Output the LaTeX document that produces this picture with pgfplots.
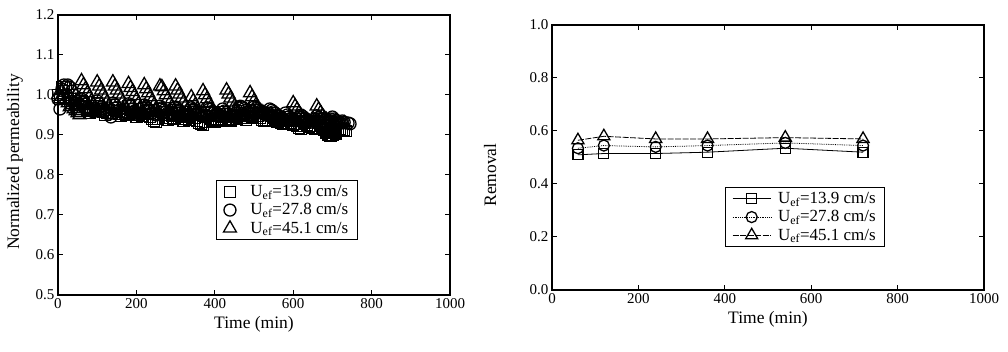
\documentclass[border=0pt]{standalone}
\usepackage{pgfplots}
\pgfplotsset{compat=1.18}
\usepackage{fontspec}
\setmainfont{Liberation Serif}
\pgfplotstableread{
x y
0 1.00
5 0.99
10 1.02
15 1.01
20 1.02
25 1.00
30 0.99
35 0.98
40 0.985
45 0.975
50 0.965
55 0.96
60 0.985
65 0.978
70 0.97
75 0.962
80 0.955
85 0.96
90 0.968
95 0.96
100 0.98
105 0.972
110 0.965
115 0.958
120 0.95
125 0.955
130 0.962
135 0.955
140 0.975
145 0.968
150 0.96
155 0.952
160 0.948
165 0.952
170 0.958
175 0.95
180 0.972
185 0.965
190 0.958
195 0.95
200 0.945
205 0.95
210 0.955
215 0.948
220 0.968
225 0.96
230 0.952
235 0.945
240 0.94
245 0.935
250 0.932
255 0.94
260 0.965
265 0.958
270 0.95
275 0.942
280 0.938
285 0.942
290 0.948
295 0.94
300 0.962
305 0.955
310 0.948
315 0.94
320 0.935
325 0.94
330 0.945
335 0.938
340 0.958
345 0.95
350 0.942
355 0.935
360 0.93
365 0.928
370 0.925
375 0.932
380 0.955
385 0.948
390 0.94
395 0.935
400 0.932
405 0.936
410 0.94
415 0.936
420 0.958
425 0.952
430 0.945
435 0.94
440 0.936
445 0.94
450 0.945
455 0.94
460 0.96
465 0.955
470 0.948
475 0.942
480 0.938
485 0.942
490 0.948
495 0.945
500 0.962
505 0.955
510 0.948
515 0.942
520 0.938
525 0.935
530 0.938
535 0.935
540 0.955
545 0.948
550 0.942
555 0.936
560 0.932
565 0.935
570 0.93
575 0.928
580 0.945
585 0.94
590 0.935
595 0.93
600 0.925
605 0.928
610 0.922
615 0.918
620 0.915
625 0.935
630 0.93
635 0.925
640 0.92
645 0.922
650 0.918
655 0.915
660 0.935
665 0.93
670 0.925
675 0.918
680 0.912
685 0.905
690 0.90
695 0.898
700 0.90
705 0.905
710 0.902
715 0.91
720 0.915
725 0.91
730 0.912
735 0.91
}\sqdata
\pgfplotstableread{
x y
0 0.99
5 0.965
10 1.015
15 1.025
20 1.02
25 1.025
30 1.02
35 1.01
40 1.00
45 0.99
50 0.98
55 0.975
60 0.99
65 0.985
70 0.978
75 0.97
80 0.965
85 0.96
90 0.958
95 0.962
100 0.985
105 0.978
110 0.97
115 0.965
120 0.96
125 0.955
130 0.952
135 0.945
140 0.98
145 0.975
150 0.968
155 0.962
160 0.958
165 0.955
170 0.952
175 0.955
180 0.978
185 0.972
190 0.965
195 0.96
200 0.955
205 0.95
210 0.952
215 0.955
220 0.975
225 0.97
230 0.965
235 0.96
240 0.955
245 0.952
250 0.95
255 0.953
260 0.972
265 0.968
270 0.962
275 0.958
280 0.955
285 0.952
290 0.95
295 0.952
300 0.97
305 0.966
310 0.96
315 0.956
320 0.952
325 0.95
330 0.948
335 0.95
340 0.968
345 0.964
350 0.958
355 0.954
360 0.95
365 0.948
370 0.946
375 0.95
380 0.968
385 0.964
390 0.958
395 0.954
400 0.95
405 0.948
410 0.946
415 0.948
420 0.965
425 0.96
430 0.956
435 0.952
440 0.948
445 0.946
450 0.945
455 0.95
460 0.968
465 0.972
470 0.97
475 0.966
480 0.962
485 0.958
490 0.955
495 0.96
500 0.97
505 0.966
510 0.962
515 0.958
520 0.955
525 0.952
530 0.95
535 0.955
540 0.965
545 0.962
550 0.958
555 0.954
560 0.95
565 0.946
570 0.942
575 0.94
580 0.955
585 0.95
590 0.946
595 0.942
600 0.938
605 0.935
610 0.94
615 0.945
620 0.95
625 0.946
630 0.942
635 0.938
640 0.935
645 0.932
650 0.935
655 0.94
660 0.948
665 0.944
670 0.94
675 0.936
680 0.933
685 0.93
690 0.935
695 0.94
700 0.945
705 0.94
710 0.936
715 0.933
720 0.93
725 0.935
730 0.932
740 0.93
745 0.928
}\cidata
\pgfplotstableread{
x y
0 1.00
5 0.99
10 1.01
15 1.00
20 0.99
25 0.98
30 0.97
35 0.975
40 0.965
45 0.96
50 0.955
55 0.95
60 1.035
65 1.025
70 1.015
75 1.005
80 0.995
85 0.985
90 0.975
95 0.965
100 1.032
105 1.022
110 1.012
115 1.002
120 0.992
125 0.982
130 0.972
135 0.962
140 1.032
145 1.022
150 1.012
155 1.002
160 0.992
165 0.982
170 0.972
175 0.962
180 1.028
185 1.018
190 1.008
195 0.998
200 0.988
205 0.978
210 0.968
215 0.958
220 1.025
225 1.015
230 1.005
235 0.995
240 0.985
245 0.975
250 0.965
255 0.955
260 1.022
265 1.02
270 1.01
275 1.00
280 0.99
285 0.98
290 0.97
295 0.96
300 1.022
305 1.012
310 1.002
315 0.992
320 0.982
325 0.972
330 0.962
335 0.955
340 0.995
345 0.985
350 0.975
355 0.965
360 0.955
365 0.95
370 1.01
375 1.00
380 0.99
385 0.98
390 0.97
395 0.96
400 0.955
405 0.95
410 0.95
415 0.945
420 0.945
425 0.945
430 1.012
435 1.002
440 0.992
445 0.982
450 0.972
455 0.962
460 0.955
465 0.95
470 0.948
475 0.945
480 0.945
485 0.943
490 1.005
495 0.995
500 0.985
505 0.975
510 0.968
515 0.962
520 0.958
525 0.955
530 0.952
535 0.95
540 0.948
545 0.946
550 0.944
555 0.942
560 0.94
565 0.94
570 0.938
575 0.936
580 0.935
585 0.934
590 0.933
595 0.932
600 0.98
605 0.972
610 0.964
615 0.956
620 0.948
625 0.942
630 0.938
635 0.935
640 0.933
645 0.932
650 0.93
655 0.93
660 0.972
665 0.964
670 0.956
675 0.948
680 0.942
685 0.938
690 0.935
695 0.932
700 0.93
705 0.93
710 0.928
715 0.927
720 0.926
725 0.925
730 0.93
}\trdata
\pgfplotstableread{
x sq ci tr
60 0.510 0.535 0.565
120 0.515 0.545 0.580
240 0.515 0.540 0.570
360 0.520 0.545 0.570
540 0.535 0.555 0.575
720 0.520 0.545 0.570
}\remdata
\pgfplotsset{
  common/.style={
    scale only axis,
    anchor=south west,
    axis line style={line width=1.2pt},
    tick align=inside,
    tick pos=both,
    major tick length=5pt,
    every tick/.style={line width=1pt, black},
    minor tick num=0,
    xmin=0, xmax=1000,
    xtick={0,200,...,1000},
    /pgf/number format/assume math mode=true,
    /pgf/number format/1000 sep={},
    tick label style={font=\fontsize{15}{18}\selectfont},
    label style={font=\fontsize{17.5}{21}\selectfont},
    xlabel={Time (min)},
    xlabel style={yshift=-1pt},
    scaled ticks=false,
    legend cell align=left,
    legend style={font=\fontsize{17}{20}\selectfont, draw=black, line width=1pt,
      row sep=1.5pt, inner xsep=7pt, inner ysep=3pt},
  },
  sqm/.style={mark=square, mark size=5.5pt, mark options={solid, line width=1.3pt, fill=white}},
  cim/.style={mark=o, mark size=6pt, mark options={solid, line width=1.3pt, fill=white}},
  trm/.style={mark=triangle, mark size=7.5pt, mark options={solid, line width=1.3pt, fill=white}},
}
\begin{document}
\begin{tikzpicture}
\path[use as bounding box] (0,0) rectangle (1008pt,352pt);
\begin{axis}[common,
  at={(58pt,57pt)}, width=392pt, height=280pt,
  ymin=0.5, ymax=1.2, ytick={0.5,0.6,...,1.21},
  yticklabel style={/pgf/number format/.cd, fixed, fixed zerofill, precision=1},
  ylabel={Normalized permeability},
  ylabel style={at={(axis description cs:-0.11,0.475)}, anchor=center, rotate=0},
  legend style={at={(axis description cs:0.403,0.411)}, anchor=north west,
    /tikz/every odd column/.append style={column sep=12pt}},
]
\addplot[only marks, black, sqm] table[x=x,y=y] {\sqdata};
\addlegendentry{U\textsubscript{ef}=13.9 cm/s}
\addplot[only marks, black, cim] table[x=x,y=y] {\cidata};
\addlegendentry{U\textsubscript{ef}=27.8 cm/s}
\addplot[only marks, black, trm] table[x=x,y=y] {\trdata};
\addlegendentry{U\textsubscript{ef}=45.1 cm/s}
\end{axis}
\begin{axis}[common,
  at={(552pt,62pt)}, width=432pt, height=265pt,
  ymin=0, ymax=1.0, ytick={0,0.2,...,1.01},
  yticklabel style={/pgf/number format/.cd, fixed, fixed zerofill, precision=1},
  ylabel={Removal},
  ylabel style={at={(axis description cs:-0.143,0.434)}, anchor=center, rotate=0},
  legend style={at={(axis description cs:0.40,0.389)}, anchor=north west,
    /tikz/every odd column/.append style={column sep=5pt}},
  legend image code/.code={\draw[mark repeat=2,mark phase=2,#1] plot coordinates {(0pt,0pt) (19pt,0pt) (38pt,0pt)};},
  sqm/.append style={mark size=5pt},
  cim/.append style={mark size=5.5pt},
  trm/.append style={mark size=7pt},
]
\addplot[black, line width=0.8pt, sqm] table[x=x,y=sq] {\remdata};
\addlegendentry{U\textsubscript{ef}=13.9 cm/s}
\addplot[black, line width=0.8pt, densely dotted, cim] table[x=x,y=ci] {\remdata};
\addlegendentry{U\textsubscript{ef}=27.8 cm/s}
\addplot[black, line width=0.8pt, dash pattern=on 6pt off 1.5pt, trm] table[x=x,y=tr] {\remdata};
\addlegendentry{U\textsubscript{ef}=45.1 cm/s}
\end{axis}
\end{tikzpicture}
\end{document}
